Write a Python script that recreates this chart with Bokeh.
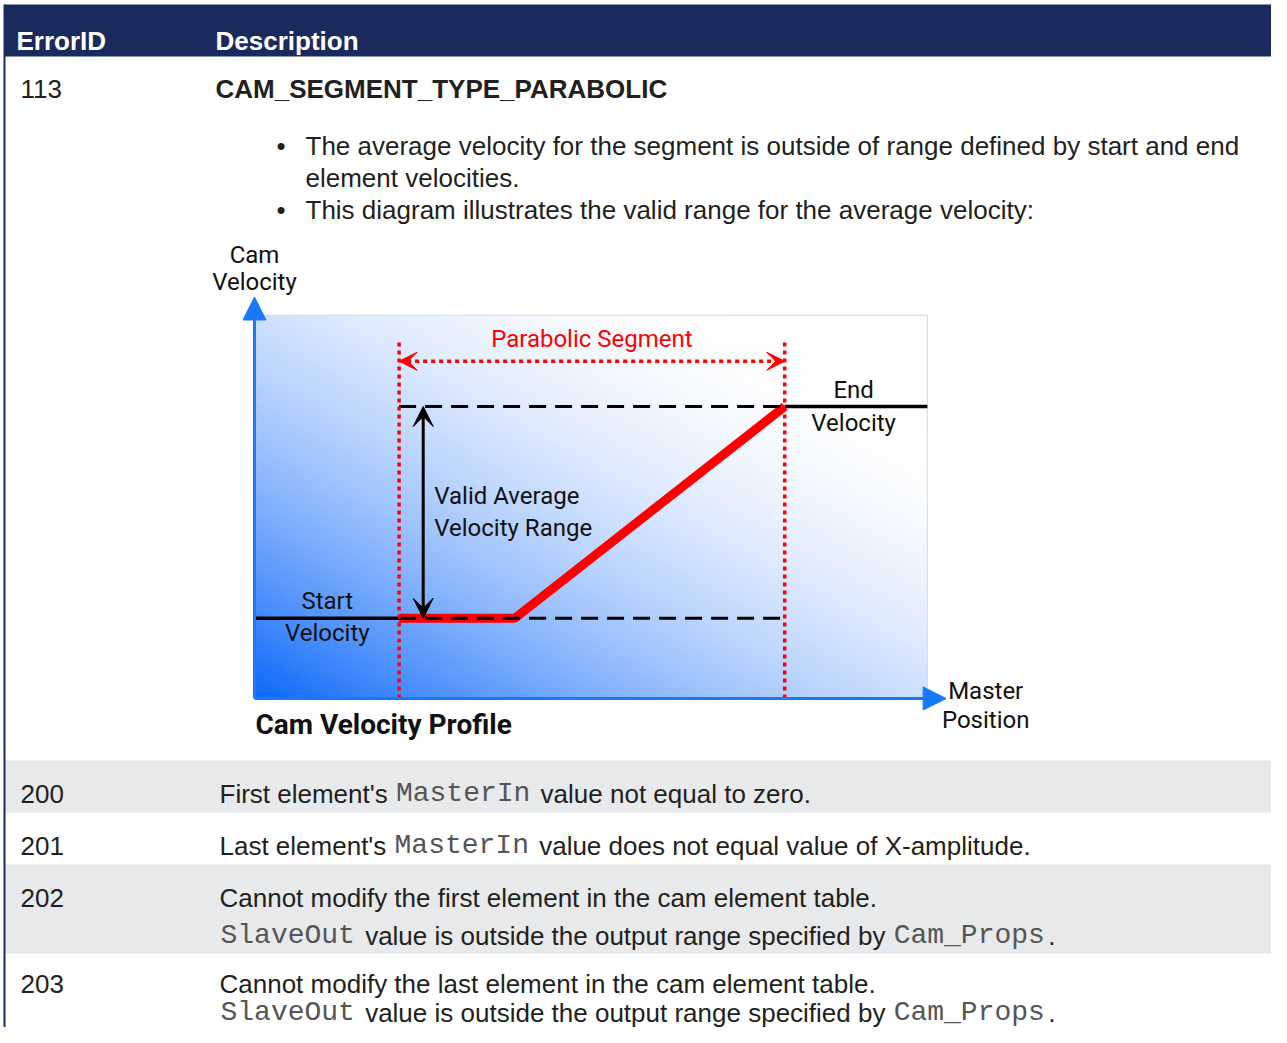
import numpy as np
from bokeh.plotting import figure
from bokeh.models import Range1d, Arrow, NormalHead, VeeHead
from bokeh.core.properties import value
from bokeh.embed import file_html
from bokeh.resources import INLINE

# ---------------- table content ----------------
header_labels = ["ErrorID", "Description"]
error_ids = ["113", "200", "201", "202", "203"]
title_113 = "CAM_SEGMENT_TYPE_PARABOLIC"
bullet_lines = [
    "The average velocity for the segment is outside of range defined by start and end",
    "element velocities.",
    "This diagram illustrates the valid range for the average velocity:",
]
bullet_marks = [True, False, True]
desc_200 = [["First element's ", "MasterIn", " value not equal to zero."]]
desc_201 = [["Last element's ", "MasterIn", " value does not equal value of X-amplitude."]]
desc_202 = [["Cannot modify the first element in the cam element table."],
            ["SlaveOut", " value is outside the output range specified by ", "Cam_Props", "."]]
desc_203 = [["Cannot modify the last element in the cam element table."],
            ["SlaveOut", " value is outside the output range specified by ", "Cam_Props", "."]]
code_words = ["MasterIn", "SlaveOut", "Cam_Props"]

# ---------------- diagram data (master position / cam velocity units) ----------------
segment_start = 3.0
segment_end = 11.0
start_velocity = 1.1
end_velocity = 4.0
profile_x = [3.0, 5.4, 11.0]
profile_y = [1.1, 1.1, 4.0]
valid_range_x = 3.5
diagram_labels = ["Cam", "Velocity", "Parabolic Segment", "End", "Velocity",
                  "Valid Average", "Velocity Range", "Start", "Velocity", "Master", "Position"]
diagram_title = "Cam Velocity Profile"

# ---------------- styles / layout ----------------
NAVY = "#1b2a5c"
STRIPE = "#e8e9eb"
TEXT = "#231f20"
CODE = "#555555"
SANS = "Liberation Sans"
MONO = "Liberation Mono"
DIAG = "Roboto"
SANS_PX = 26
MONO_PX = 28
FW, FH = 1271, 1027

p = figure(width=FW, height=FH, x_range=Range1d(0, FW), y_range=Range1d(FH, 0),
           output_backend="svg", toolbar_location=None, min_border=0,
           x_axis_type=None, y_axis_type=None)
p.grid.visible = False
p.outline_line_color = None
p.background_fill_color = "white"
p.border_fill_color = "white"

# diagram coordinate system: x px = 254 + 48.2*x ; y px = 698 - 73*y
XS, X0, YS, Y0 = 48.2, 254.0, 73.0, 698.0
p.extra_x_ranges = {"dx": Range1d((0 - X0) / XS, (FW - X0) / XS)}
p.extra_y_ranges = {"dy": Range1d((Y0 - FH) / YS, (Y0 - 0) / YS)}
D = dict(x_range_name="dx", y_range_name="dy")

# ---------------- table bands ----------------
band_top = [4, 760, 864]
band_bot = [56, 812, 953]
band_col = [NAVY, STRIPE, STRIPE]
p.quad(left=[4] * 3, right=[1290] * 3, top=band_top, bottom=band_bot,
       fill_color=band_col, line_color=None)
p.segment(x0=[4], y0=[4], x1=[4], y1=[1040], line_color=NAVY, line_width=2)

# header
p.text(x=[16, 215], y=[40, 40], text=header_labels, text_font=value(SANS),
       text_font_style="bold", text_font_size=f"{SANS_PX}px", text_color="white",
       text_baseline="alphabetic")

# error ids
id_base = [88, 793, 845, 897, 983]
p.text(x=[20] * 5, y=id_base, text=error_ids, text_font=value(SANS),
       text_font_size=f"{SANS_PX}px", text_color=TEXT, text_baseline="alphabetic")

# 113 title and bullets
p.text(x=[215], y=[88], text=[title_113], text_font=value(SANS), text_font_style="bold",
       text_font_size=f"{SANS_PX}px", text_color=TEXT, text_baseline="alphabetic")
bullet_base = [145, 177, 209]
p.text(x=[305] * 3, y=bullet_base, text=bullet_lines, text_font=value(SANS),
       text_font_size=f"{SANS_PX}px", text_color=TEXT, text_baseline="alphabetic")
p.text(x=[276] * 2, y=[b for b, m in zip(bullet_base, bullet_marks) if m], text=["•"] * 2,
       text_font=value(SANS), text_font_size=f"{SANS_PX}px", text_color=TEXT,
       text_baseline="alphabetic")

# arial advance widths (per 1000 em)
AW = {' ': 278, "'": 191, '.': 278, 'F': 611, 'L': 556, 'C': 722, 'X': 667, '-': 333,
      'a': 556, 'b': 556, 'c': 500, 'd': 556, 'e': 556, 'f': 278, 'g': 556, 'h': 556,
      'i': 222, 'l': 222, 'm': 833, 'n': 556, 'o': 556, 'p': 556, 'q': 556, 'r': 333,
      's': 500, 't': 278, 'u': 556, 'v': 500, 'w': 722, 'y': 500, 'z': 500, 'x': 500}
MONO_ADV = 17.3  # px per monospaced character as seen in the reference

sans_x, sans_y, sans_t = [], [], []
mono_x, mono_y, mono_t = [], [], []


def layout_runs(runs, x0, base):
    x = x0
    for seg in runs:
        lead = len(seg) - len(seg.lstrip(" "))
        body = seg.strip(" ")
        if seg in code_words:
            x += lead * MONO_ADV
            mono_x.append(x + 1); mono_y.append(base); mono_t.append(body)
            x += len(body) * MONO_ADV
        else:
            x += lead * AW[' '] * SANS_PX / 1000
            sans_x.append(x); sans_y.append(base); sans_t.append(body)
            x += sum(AW.get(c, 556) for c in body) * SANS_PX / 1000
            x += (len(seg) - lead - len(body)) * AW[' '] * SANS_PX / 1000


for lines, bases in [(desc_200, [793]), (desc_201, [845]), (desc_202, [897, 935]),
                     (desc_203, [983, 1012])]:
    for runs, b in zip(lines, bases):
        layout_runs(runs, 219, b)

p.text(x=sans_x, y=sans_y, text=sans_t, text_font=value(SANS), text_font_size=f"{SANS_PX}px",
       text_color=TEXT, text_baseline="alphabetic")
p.text(x=mono_x, y=mono_y, text=mono_t, text_font=value(MONO), text_font_size=f"{MONO_PX}px",
       text_color=CODE, text_baseline="alphabetic")

# ---------------- diagram ----------------
area_w, area_h = 13.96, 5.25
axis_x_max, axis_y_max = 14.35, 5.5
marker_top = 4.88
segment_arrow_y = 4.62

H, W = 160, 300
u = np.linspace(0, 1, W)[None, :]
v = np.linspace(0, 1, H)[:, None]
t = (u + v) / 2
f = np.clip(1 - t / 0.85, 0, 1) ** 1.8
img = np.empty((H, W), dtype=np.uint32)
view = img.view(dtype=np.uint8).reshape((H, W, 4))
view[..., 0] = (255 - (255 - 12) * f).astype(np.uint8)
view[..., 1] = (255 - (255 - 104) * f).astype(np.uint8)
view[..., 2] = (255 - (255 - 250) * f).astype(np.uint8)
view[..., 3] = 255
p.image_rgba(image=[img], x=0, y=0, dw=area_w, dh=area_h, **D)
p.quad(left=[0], right=[area_w], bottom=[0], top=[area_h], fill_color=None,
       line_color="#d9d9d9", line_width=1, **D)

# red profile
p.line(x=profile_x, y=profile_y, line_color="#ff0000", line_width=9, **D)

# velocity level lines
p.line(x=[0, segment_start], y=[start_velocity] * 2, line_color="black", line_width=3.5, **D)
p.line(x=[segment_end, area_w], y=[end_velocity] * 2, line_color="black", line_width=3.5, **D)
p.segment(x0=[segment_start] * 2, x1=[segment_end] * 2, y0=[start_velocity, end_velocity],
          y1=[start_velocity, end_velocity], line_color="black", line_width=3,
          line_dash="17 9", **D)

# segment markers
p.segment(x0=[segment_start, segment_end], x1=[segment_start, segment_end], y0=[0, 0],
          y1=[marker_top] * 2, line_color="#ff0000", line_width=3.5, line_dash="4 4", **D)

p.add_layout(Arrow(x_start=segment_start, y_start=segment_arrow_y, x_end=segment_end,
                   y_end=segment_arrow_y, line_color="#ff0000", line_width=3.5, line_dash="4 4",
                   start=VeeHead(size=18, fill_color="#ff0000", line_color="#ff0000"),
                   end=VeeHead(size=18, fill_color="#ff0000", line_color="#ff0000"), **D))
p.add_layout(Arrow(x_start=valid_range_x, y_start=start_velocity, x_end=valid_range_x,
                   y_end=end_velocity, line_color="black", line_width=3,
                   start=VeeHead(size=20, fill_color="black", line_color="black"),
                   end=VeeHead(size=20, fill_color="black", line_color="black"), **D))

# axes
BLUE = "#1978f5"
p.add_layout(Arrow(x_start=0, y_start=0, x_end=0, y_end=axis_y_max, line_color=BLUE, line_width=3,
                   end=NormalHead(size=23, fill_color=BLUE, line_color=BLUE), **D))
p.add_layout(Arrow(x_start=0, y_start=0, x_end=axis_x_max, y_end=0, line_color=BLUE, line_width=3,
                   end=NormalHead(size=23, fill_color=BLUE, line_color=BLUE), **D))

# diagram labels
mid_seg = (segment_start + segment_end) / 2
lab_x = [0, 0, mid_seg, 12.43, 12.43, None, None, 1.51, 1.51, 15.17, 15.17]
lab_y = [6.08, 5.70, 4.93, end_velocity + 0.22, end_velocity - 0.22, None, None,
         start_velocity + 0.24, start_velocity - 0.20, 0.10, -0.30]
centered = [0, 1, 3, 4, 7, 8, 9, 10]
p.text(x=[lab_x[i] for i in centered], y=[lab_y[i] for i in centered],
       text=[diagram_labels[i] for i in centered], text_font=value(DIAG), text_font_size="24px",
       text_color="#111111", text_align="center", text_baseline="middle", **D)
p.text(x=[mid_seg], y=[lab_y[2]], text=[diagram_labels[2]], text_font=value(DIAG),
       text_font_size="24px", text_color="#ff0000", text_align="center", text_baseline="middle", **D)
p.text(x=[valid_range_x + 0.23] * 2, y=[2.78, 2.34], text=diagram_labels[5:7], text_font=value(DIAG),
       text_font_size="24px", text_color="#111111", text_align="left", text_baseline="middle", **D)
p.text(x=[0.02], y=[-0.36], text=[diagram_title], text_font=value(DIAG), text_font_style="bold",
       text_font_size="28px", text_color="#111111", text_align="left", text_baseline="middle", **D)

open("out.html", "w").write(file_html(p, INLINE))
